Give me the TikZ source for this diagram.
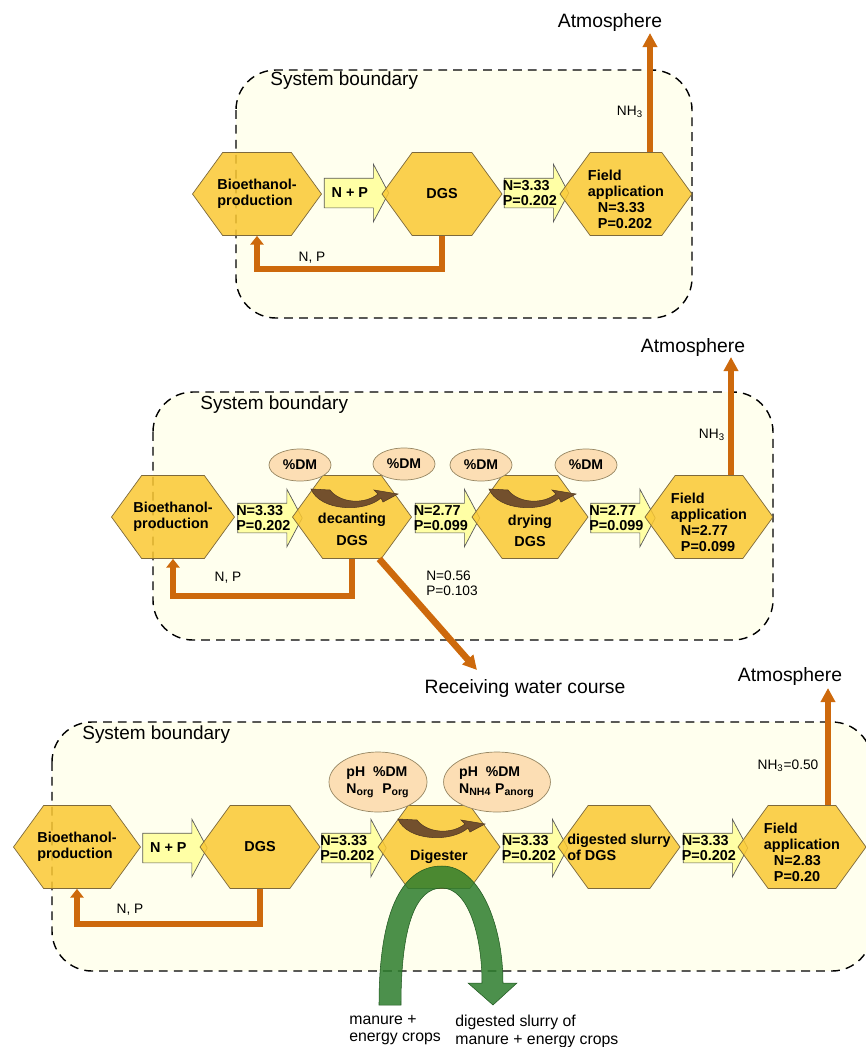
\documentclass[tikz,border=0pt]{standalone}
\usepackage{fontspec}
\setmainfont{Liberation Sans}
\usetikzlibrary{shapes.symbols, shapes.arrows, shapes.geometric, arrows.meta, calc}

\definecolor{boxcream}{RGB}{255,255,238}
\definecolor{hexgold}{RGB}{250,200,50}
\definecolor{hexedge}{RGB}{125,105,60}
\definecolor{flowyellow}{RGB}{255,255,165}
\definecolor{ellpeach}{RGB}{252,222,180}
\definecolor{nporange}{RGB}{205,105,12}
\definecolor{swirlbrown}{RGB}{115,80,45}
\definecolor{slurrygreen}{RGB}{45,125,45}

\tikzset{
  sysbox/.style={draw=black, dash pattern=on 5pt off 3.5pt, line width=0.8pt, fill=boxcream, rounded corners=8mm},
  sysl/.style={font=\fontsize{10.8}{12}\selectfont, anchor=west, inner sep=0pt},
  sky/.style={font=\fontsize{11}{13}\selectfont, inner sep=0pt},
  lbl/.style={font=\fontsize{7.8}{8.6}\selectfont, align=left, inner sep=0pt},
  captext/.style={font=\fontsize{9}{9.8}\selectfont, align=left, anchor=north west, inner sep=0pt},
  hexbox/.style={signal, signal to=east and west, signal pointer angle=108, draw=hexedge, line width=0.4pt,
    fill=hexgold, fill opacity=0.85, minimum height=16.6mm, inner sep=0pt},
  hexlbl/.style={font=\fontsize{8.2}{9}\selectfont\bfseries, align=left, inner sep=0pt, fill opacity=1, text opacity=1},
  flowarrow/.style={single arrow, single arrow head extend=2.8mm, single arrow tip angle=124, draw=gray!70!black,
    line width=0.4pt, fill=flowyellow, minimum height=12.9mm, text height=5.8mm, text depth=0pt, inner sep=0pt},
  flowlbl/.style={font=\fontsize{8.2}{8.6}\selectfont\bfseries, align=left, inner sep=0pt, xshift=-1.5pt},
  dmbubble/.style={ellipse, draw=hexedge!80, fill=ellpeach, line width=0.4pt, minimum width=12.4mm, minimum height=6.4mm,
    inner sep=0pt, font=\fontsize{8}{9.5}\selectfont\bfseries, align=left},
  npflow/.style={draw=nporange, line width=3.8pt, -{Triangle[length=8pt,width=8pt]}},
  npback/.style={draw=nporange, line width=3.8pt, -{Triangle[length=5pt,width=7.5pt]}},
  swirl/.pic={
    \fill[swirlbrown, draw=swirlbrown!70!black, line width=0.3pt] (-41,-28) .. controls (-32,-6) and (12,-4) .. (29,-19)
      -- (31,-15) -- (46,-23) -- (22,-27) -- (26,-23) .. controls (12,-12) and (-12,-14) .. (-22,-27) -- cycle;
  }
}

\begin{document}
\begin{tikzpicture}[x=0.2mm, y=-0.2mm]
  \useasboundingbox (0,0) rectangle (866,1047);

  % Top: DGS goes straight to the field
  \draw[sysbox] (236,70) rectangle (692,318);
  \node[sysl] (sb1) at (270,81) {System boundary};
  \node[sky] (atm1) at (610,22) {Atmosphere};

  \node[hexbox, minimum width=25.8mm, label={[hexlbl]center:Bioethanol-\\production}] (bio1) at (257,194) {};
  \node[flowarrow, label={[flowlbl]center:N + P}] (fl1a) at (352.5,193) {};
  \node[hexbox, minimum width=24mm, label={[hexlbl]center:DGS}] (dgs1) at (442,194) {};
  \node[flowarrow, label={[flowlbl]center:N=3.33\\P=0.202}] (fl1b) at (532.5,193) {};
  \node[hexbox, minimum width=26.4mm,
    label={[hexlbl, yshift=-3pt]center:Field\\application\\\hspace*{2mm}N=3.33\\\hspace*{2mm}P=0.202}] (fa1) at (626,194) {};

  \coordinate (up1) at (650,33);
  \draw[npflow] (fa1.north -| up1) -- (up1);
  \node[lbl] (nh1) at (630,112) {NH\textsubscript{3}};
  \draw[npback] (dgs1.south) -- ++(0,33) -| (bio1.south);
  \node[lbl] (np1) at (312,258) {N, P};

  % Middle: decanting and drying
  \draw[sysbox] (153,392) rectangle (773,640);
  \node[sysl] (sb2) at (200,405) {System boundary};
  \node[sky] (atm2) at (693,347) {Atmosphere};

  \node[hexbox, minimum width=24.6mm, label={[hexlbl]center:Bioethanol-\\production}] (bio2) at (173,517) {};
  \node[flowarrow, label={[flowlbl]center:N=3.33\\P=0.202}] (fl2a) at (266,518) {};
  \node[hexbox, minimum width=23.8mm, label={[hexlbl, align=center, yshift=-7pt]center:decanting\\[3pt]DGS}] (dec2) at (352,517) {};
  \node[flowarrow, label={[flowlbl]center:N=2.77\\P=0.099}] (fl2b) at (443.5,518) {};
  \node[hexbox, minimum width=23.2mm, label={[hexlbl, align=center, yshift=-8pt]center:drying\\[3pt]DGS}] (dry2) at (530,517) {};
  \node[flowarrow, label={[flowlbl]center:N=2.77\\P=0.099}] (fl2c) at (619,518) {};
  \node[hexbox, minimum width=25.6mm,
    label={[hexlbl, yshift=-3pt]center:Field\\application\\\hspace*{2mm}N=2.77\\\hspace*{2mm}P=0.099}] (fa2) at (709,517) {};

  \node[dmbubble] (dm2a) at (300,465) {\%DM};
  \node[dmbubble] (dm2b) at (404,464) {\%DM};
  \node[dmbubble] (dm2c) at (481,465) {\%DM};
  \node[dmbubble] (dm2d) at (586,465) {\%DM};
  \pic at (dec2.center) {swirl};
  \pic at (dry2.center) {swirl};

  \coordinate (up2) at (731,357);
  \draw[npflow] (fa2.north -| up2) -- (up2);
  \node[lbl] (nh2) at (712,435) {NH\textsubscript{3}};
  \draw[npback] (dec2.south) -- ++(0,37) -| (bio2.south);
  \node[lbl] (np2) at (228,578) {N, P};

  \node[sky] (rwc) at (525,688) {Receiving water course};
  \coordinate (rw) at (477,670);
  \draw[npflow] (dec2.-57) -- (rw);
  \node[lbl] (loss2) at (452,583) {N=0.56\\P=0.103};

  % Bottom: digester
  \draw[sysbox] (52,722) rectangle (872,971);
  \node[sysl] (sb3) at (82,735) {System boundary};
  \node[sky] (atm3) at (790,676) {Atmosphere};

  \node[hexbox, minimum width=25.4mm, label={[hexlbl]center:Bioethanol-\\production}] (bio3) at (77,847) {};
  \node[flowarrow, label={[flowlbl]center:N + P}] (fl3a) at (171,848) {};
  \node[hexbox, minimum width=24mm, label={[hexlbl]center:DGS}] (dgs3) at (260,847) {};
  \node[flowarrow, label={[flowlbl]center:N=3.33\\P=0.202}] (fl3b) at (350,848) {};
  \node[hexbox, minimum width=24.4mm, label={[hexlbl, yshift=-5.5pt]center:Digester}] (dig3) at (439,847) {};
  \node[flowarrow, label={[flowlbl]center:N=3.33\\P=0.202}] (fl3c) at (531.5,848) {};
  \node[hexbox, minimum width=24.4mm, label={[hexlbl]center:digested slurry\\of DGS}] (dsl3) at (619,847) {};
  \node[flowarrow, label={[flowlbl]center:N=3.33\\P=0.202}] (fl3d) at (711.5,848) {};
  \node[hexbox, minimum width=25.6mm,
    label={[hexlbl, yshift=-3pt]center:Field\\application\\\hspace*{2mm}N=2.83\\\hspace*{2mm}P=0.20}] (fa3) at (802,847) {};

  \node[dmbubble, minimum width=19.6mm, minimum height=12mm] (dm3a) at (378,782) {pH\ \ \%DM\\N\textsubscript{org}\ \ P\textsubscript{org}};
  \node[dmbubble, minimum width=19.4mm, minimum height=12mm] (dm3b) at (497,782) {pH\ \ \%DM\\N\textsubscript{NH4}\ P\textsubscript{anorg}};
  \pic at (dig3.center) {swirl};

  % manure and energy crops through the digester
  \fill[slurrygreen, fill opacity=0.85, draw=slurrygreen!70!black, line width=0.3pt]
    (379,1005) .. controls (379,905) and (405,866) .. (442,866) .. controls (480,866) and (503,925) .. (503,983)
    -- (517,983) -- (493,1005) -- (468,983) -- (482,983)
    .. controls (482,935) and (468,888) .. (442,888) .. controls (416,888) and (401,925) .. (401,1005) -- cycle;
  \node[captext] (in3) at (349,1015) {manure +\\energy crops};
  \node[captext] (out3) at (455,1015) {digested slurry of\\manure + energy crops};

  \coordinate (up3) at (828,688);
  \draw[npflow] (fa3.north -| up3) -- (up3);
  \node[lbl] (nh3) at (788,766) {NH\textsubscript{3}=0.50};
  \draw[npback] (dgs3.south) -- ++(0,35) -| (bio3.south);
  \node[lbl] (np3) at (130,910) {N, P};
\end{tikzpicture}
\end{document}
